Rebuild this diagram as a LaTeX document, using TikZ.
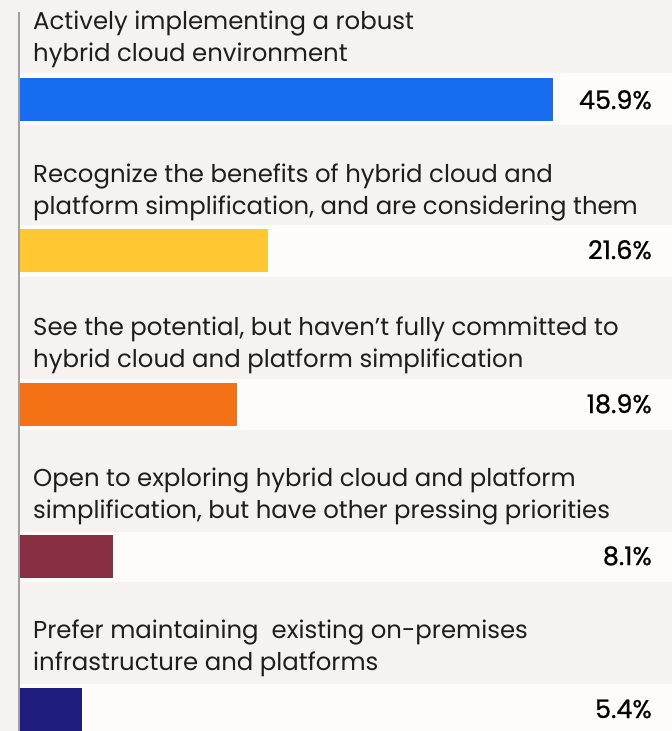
\documentclass[tikz,border=0pt]{standalone}
\usepackage{fontspec}
\setmainfont{Poppins}
\newfontfamily\pctfont[FakeBold=0.8]{Poppins}
\definecolor{bgcol}{RGB}{246,242,239}
\definecolor{bandcol}{RGB}{254,252,250}
\definecolor{axiscol}{RGB}{160,160,160}
\definecolor{txtcol}{RGB}{30,30,30}
\definecolor{barblue}{RGB}{23,108,240}
\definecolor{baryellow}{RGB}{255,200,50}
\definecolor{barorange}{RGB}{245,113,22}
\definecolor{barmaroon}{RGB}{136,46,66}
\definecolor{barnavy}{RGB}{30,28,124}
\tikzset{
  lbl/.style={anchor=base west, inner sep=0pt, text=txtcol, align=left,
    font=\fontsize{24.4}{32}\selectfont},
  pct/.style={anchor=base east, inner sep=0pt, text=black,
    font=\pctfont\fontsize{25.5}{28}\selectfont}
}
\begin{document}
\begin{tikzpicture}[x=1pt, y=-1pt]
      \useasboundingbox (0,0) rectangle (672,731);
      \fill[bgcol] (0,0) rectangle (672,731);
      % white bands behind the bars
      \fill[bandcol] (19,73) rectangle (672,125);
      \fill[bandcol] (19,225) rectangle (672,277);
      \fill[bandcol] (19,379) rectangle (672,430);
      \fill[bandcol] (19,532) rectangle (672,582);
      \fill[bandcol] (19,684) rectangle (672,731);
      % bars
      \fill[barblue] (20,78) rectangle (553,121);
      \fill[baryellow] (20,229) rectangle (268,272);
      \fill[barorange] (20,383) rectangle (237,426);
      \fill[barmaroon] (20,535) rectangle (113,578);
      \fill[barnavy] (20,688) rectangle (82,731);
      \draw[axiscol, line width=1.5pt] (19,12) -- (19,731);
      % labels
      \node[lbl] (lab1) at (33,61) {Actively implementing a robust\\hybrid cloud environment};
      \node[lbl] (lab2) at (33,214) {Recognize the benefits of hybrid cloud and\\platform simplification, and are considering them};
      \node[lbl] (lab3) at (33,367) {See the potential, but haven’t fully committed to\\hybrid cloud and platform simplification};
      \node[lbl] (lab4) at (33,518) {Open to exploring hybrid cloud and platform\\simplification, but have other pressing priorities};
      \node[lbl] (lab5) at (33,670) {Prefer maintaining\ \ existing on-premises\\infrastructure and platforms};
      % values
      \node[pct] (val1) at (652,109) {45.9\%};
      \node[pct] (val2) at (652,259) {21.6\%};
      \node[pct] (val3) at (652,413) {18.9\%};
      \node[pct] (val4) at (652,565) {8.1\%};
      \node[pct] (val5) at (652,718) {5.4\%};
    \end{tikzpicture}
\end{document}
